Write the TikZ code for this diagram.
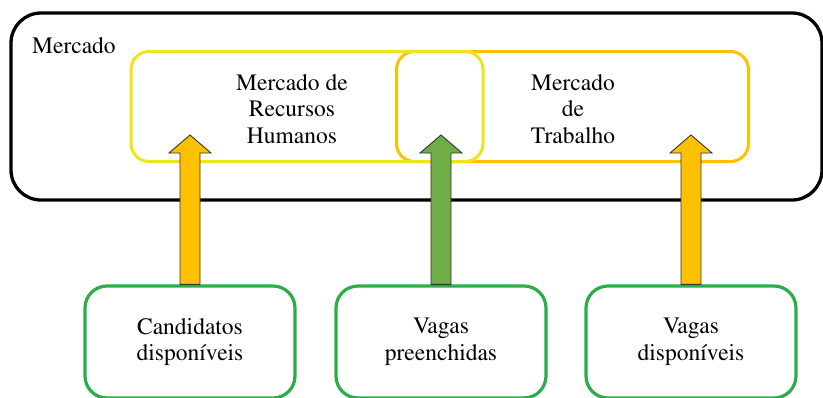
\documentclass[tikz,border=0pt]{standalone}
\usepackage[T1]{fontenc}
\usepackage{times}
\usetikzlibrary{calc}
\definecolor{outerblk}{HTML}{000000}
\definecolor{ylw}{HTML}{EEE41C}
\definecolor{org}{HTML}{FFC000}
\definecolor{grnbox}{HTML}{2BAE4A}
\definecolor{grnarr}{HTML}{70AD47}
\begin{document}
\begin{tikzpicture}[x=1pt,y=-1pt,
  txt/.style={font=\fontsize{23.5}{26.5}\selectfont, align=center, inner sep=0pt},
  boxb/.style={draw=grnbox, line width=3.2pt, rounded corners=22pt, fill=none,
    minimum width=210pt, minimum height=112pt, inner sep=0pt,
    font=\fontsize{23.5}{26.5}\selectfont, align=center},
  upbox/.style={line width=3pt, rounded corners=18pt, minimum width=352pt, minimum height=110pt, inner sep=0pt},
  blockarr/.style={draw=black!80, line width=0.9pt, line join=miter}
]
\useasboundingbox (0,0) rectangle (823,397);
% outer market box
\node[draw=outerblk, line width=3.3pt, rounded corners=30pt, minimum width=811pt, minimum height=187pt, inner sep=0pt] (market) at (416.5,106.5) {};
\node[txt, anchor=west] (mlabel) at (32,46) {Mercado};
% upper boxes
\node[upbox, draw=org] (mt) at (572.5,106.5) {};
\node[upbox, draw=ylw] (mrh) at (307,106.5) {};
\node[txt] (mrhtxt) at (292,109) {Mercado de\\Recursos\\Humanos};
\node[txt] (mttxt) at (573,109) {Mercado\\de\\Trabalho};
% bottom boxes
\node[boxb] (c1) at (190,342) {Candidatos\\disponíveis};
\node[boxb] (c2) at (441,342) {Vagas\\preenchidas};
\node[boxb] (c3) at (691,342) {Vagas\\disponíveis};
% arrow tips
\coordinate (t1) at (190,135);
\coordinate (t2) at (441,135);
\coordinate (t3) at (691,135);
\newcommand{\blkarrow}[3]{%
  \filldraw[blockarr, fill=#3]
    ($(#1.north)+(-10,0)$) -- ($(#2)+(-10,18)$) -- ($(#2)+(-21,18)$) -- (#2)
    -- ($(#2)+(21,18)$) -- ($(#2)+(10,18)$) -- ($(#1.north)+(10,0)$) -- cycle;}
\blkarrow{c1}{t1}{org}
\blkarrow{c2}{t2}{grnarr}
\blkarrow{c3}{t3}{org}
\end{tikzpicture}
\end{document}
